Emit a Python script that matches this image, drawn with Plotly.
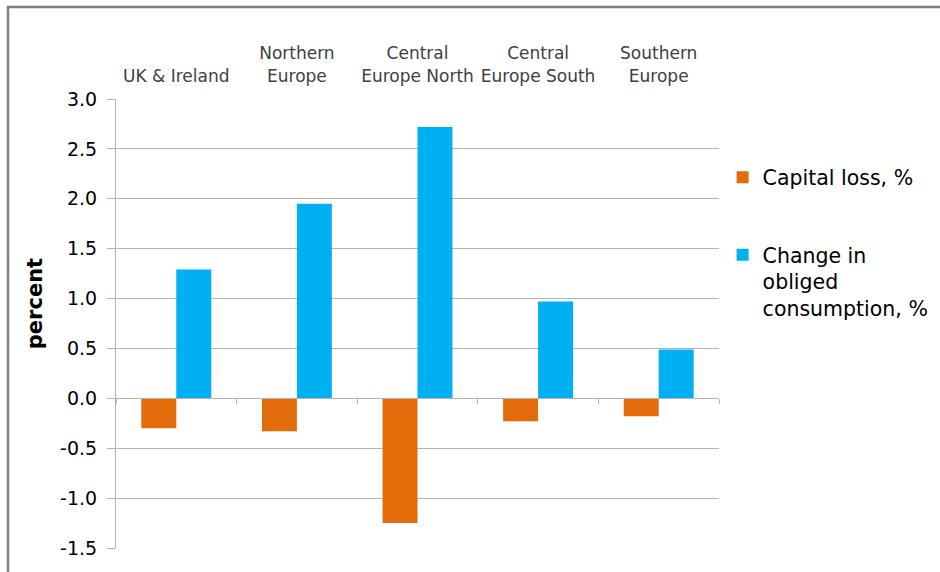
import plotly.graph_objects as go

# Regions and results (percent)
regions = ["UK & Ireland", "Northern<br>Europe", "Central<br>Europe North",
           "Central<br>Europe South", "Southern<br>Europe"]
capital_loss = [-0.30, -0.33, -1.25, -0.23, -0.18]
obliged_consumption = [1.29, 1.95, 2.72, 0.97, 0.49]
y_ticks = [-1.5, -1.0, -0.5, 0.0, 0.5, 1.0, 1.5, 2.0, 2.5, 3.0]

ORANGE = "#E36C0A"
BLUE = "#00B0F0"
GRID = "#B3B3B3"
FONT = "DejaVu Sans, Verdana, sans-serif"

fig = go.Figure()
fig.add_trace(go.Bar(x=regions, y=capital_loss, name="Capital loss, %",
                     legendgroup="loss",
                     marker=dict(color=ORANGE, line=dict(width=0))))
fig.add_trace(go.Bar(x=regions, y=obliged_consumption,
                     name="Change in<br>obliged<br>consumption, %",
                     legendgroup="consumption",
                     marker=dict(color=BLUE, line=dict(width=0))))
# invisible trace that carries the top category labels
fig.add_trace(go.Bar(x=regions, y=[None] * len(regions), xaxis="x2",
                     showlegend=False, hoverinfo="skip"))

y_min, y_max = -1.5, 3.0
zero_pos = (0 - y_min) / (y_max - y_min)

fig.update_layout(
    width=940, height=572,
    margin=dict(l=116, r=221, t=99, b=24, autoexpand=False),
    paper_bgcolor="white", plot_bgcolor="white",
    font=dict(family=FONT, color="#000000"),
    barmode="group", bargap=0.42, bargroupgap=0,
    showlegend=True,
    legend=dict(x=1.006, y=0.87, xanchor="left", yanchor="top",
                font=dict(size=20.5, color="#000000"),
                tracegroupgap=48, itemwidth=30, valign="top",
                bgcolor="rgba(0,0,0,0)"),
    xaxis=dict(type="category", anchor="free", position=zero_pos,
               showline=True, linecolor=GRID, linewidth=1,
               ticks="outside", ticklen=5, tickcolor=GRID,
               tickson="boundaries", showticklabels=False,
               showgrid=False, zeroline=False),
    xaxis2=dict(type="category", overlaying="x", matches="x", side="top",
                showline=False, ticks="", showgrid=False,
                tickfont=dict(size=17, color="#404040"),
                ticklabelstandoff=13),
    yaxis=dict(range=[y_min, y_max], tickvals=y_ticks,
               ticktext=[f"{v:.1f}" for v in y_ticks],
               showline=True, linecolor=GRID, linewidth=1,
               ticks="outside", ticklen=8, tickcolor=GRID,
               showgrid=True, gridcolor=GRID, gridwidth=1,
               zeroline=False, tickfont=dict(size=19, color="#000000"),
               ticklabelstandoff=6),
)

# vertical axis title
fig.add_annotation(text="<b>percent</b>", textangle=-90, showarrow=False,
                   xref="paper", yref="paper", x=-81 / 603, y=0.543,
                   xanchor="center", yanchor="middle",
                   font=dict(size=21, color="#000000"))

# outer chart frame
fig.add_shape(type="rect", xref="paper", yref="paper",
              x0=-108 / 603, x1=1.6, y0=-0.3, y1=1 + 92 / 449,
              line=dict(color="#7F7F7F", width=2.5), fillcolor="rgba(0,0,0,0)",
              layer="below")

fig.write_html("out.html")
